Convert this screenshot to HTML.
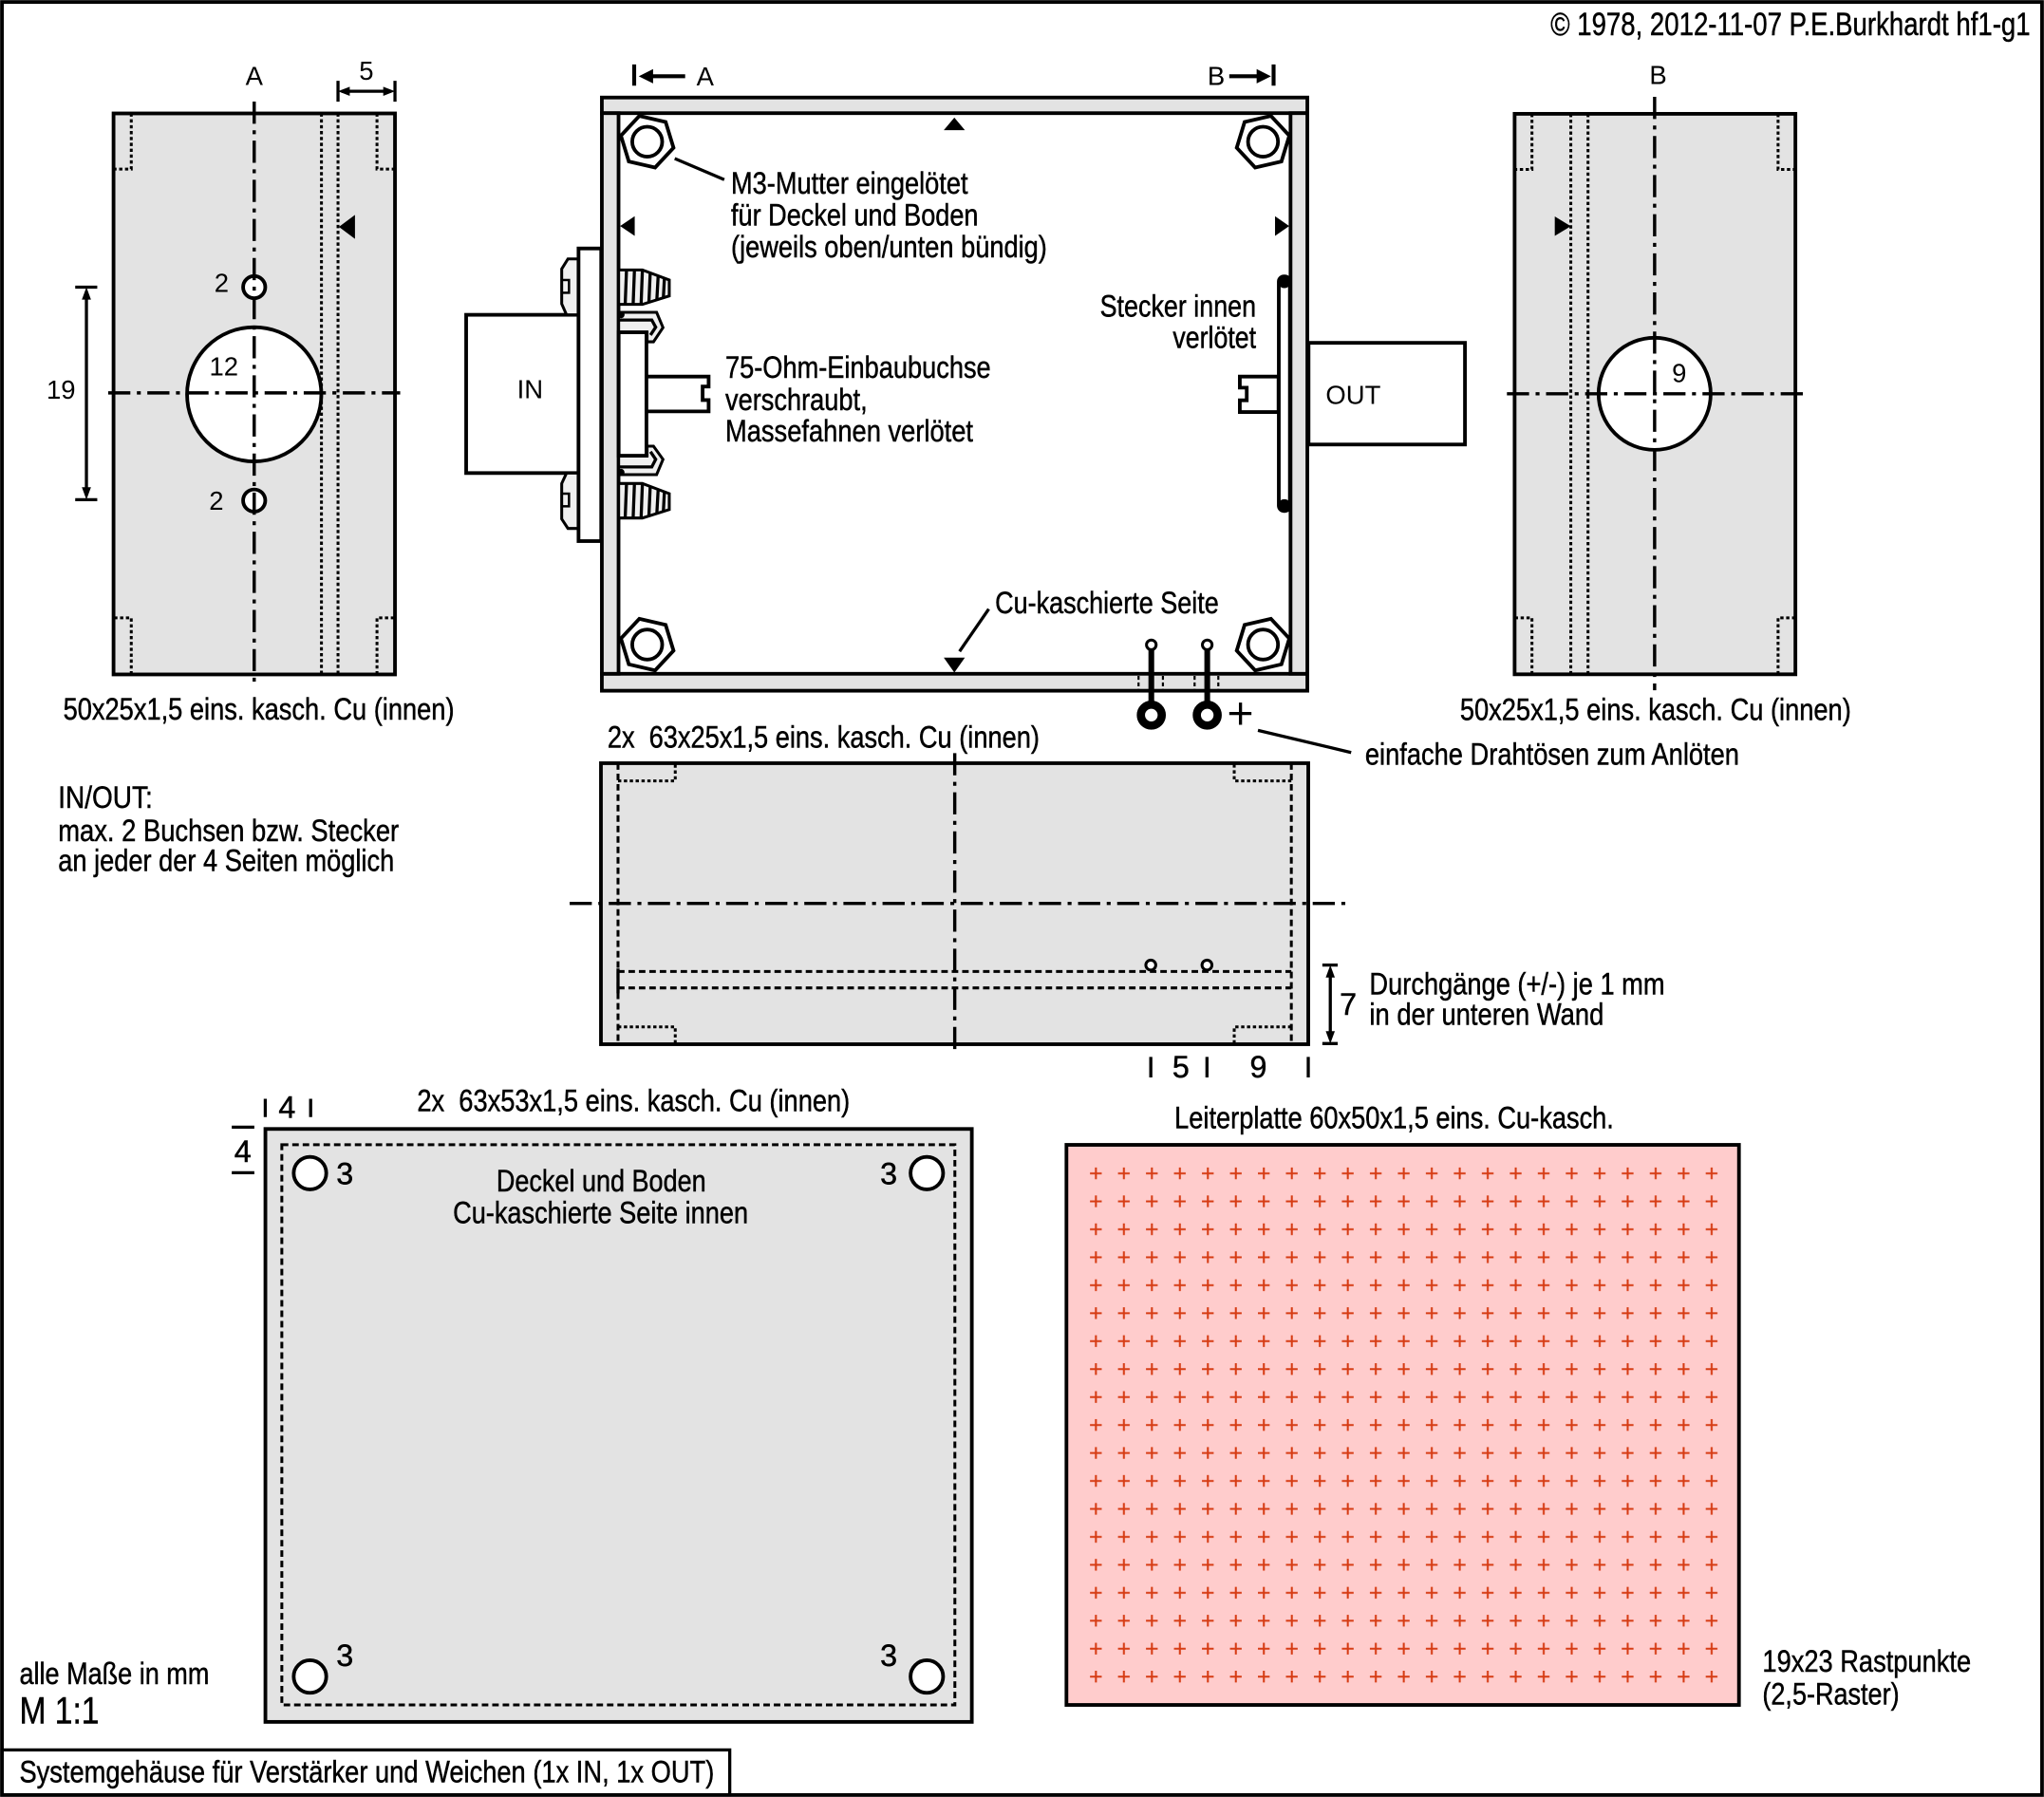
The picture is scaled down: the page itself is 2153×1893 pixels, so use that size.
<!DOCTYPE html>
<html><head><meta charset="utf-8">
<style>
html,body{margin:0;padding:0;background:#fff;overflow:hidden}
svg{display:block}
.c{font-family:"Liberation Sans Narrow","Liberation Sans",sans-serif;font-size:23.5px;fill:#000;stroke:#000;stroke-width:0.35;white-space:pre}
.n{font-family:"Liberation Sans",sans-serif;font-size:20px;fill:#000}
.g{fill:#e3e3e3;stroke:#000;stroke-width:2.8}
.w{fill:#fff;stroke:#000;stroke-width:2.8}
.lg{fill:#f0f0f0;stroke:#000;stroke-width:2.2}
.ln{fill:none;stroke:#000;stroke-width:2.4}
.ln3{fill:none;stroke:#000;stroke-width:3}
.dt{fill:none;stroke:#000;stroke-width:2.2;stroke-dasharray:2.5 2}
.ds{fill:none;stroke:#000;stroke-width:2.2;stroke-dasharray:5 3}
.cl{fill:none;stroke:#000;stroke-width:2.5;stroke-dasharray:17 5 3 5}
</style></head>
<body>
<svg xmlns="http://www.w3.org/2000/svg" width="2153" height="1893" viewBox="0 0 1568 1378.6">
<defs>
<pattern id="px" patternUnits="userSpaceOnUse" x="829.97" y="889.48" width="21.47" height="21.45">
<path d="M6.2,10.725H15.2M10.735,6.2V15.2" stroke="#d63c14" stroke-width="1.5"/>
</pattern>
</defs>
<rect x="0" y="0" width="1568" height="1378.6" fill="#fff"/>
<rect x="1.5" y="1.5" width="1565" height="1375.6" fill="none" stroke="#000" stroke-width="2.8"/>

<text class="c" x="1557.5" y="27" text-anchor="end" style="font-size:25px" textLength="368" lengthAdjust="spacingAndGlyphs">© 1978, 2012-11-07 P.E.Burkhardt hf1-g1</text>

<!-- LEFT PANEL (A) -->
<rect x="87.1" y="87" width="215.9" height="430.4" class="g"/>
<path class="dt" d="M100.7,87V129.7H87.1 M289.2,87V129.7H303 M100.7,517.4V474H87.1 M289.2,517.4V474H303"/>
<path class="dt" d="M246.6,87V517.4 M259.3,87V517.4"/>
<circle cx="195" cy="302.5" r="51.5" class="w"/>
<circle cx="195" cy="220.3" r="8.5" class="w" stroke-width="2.4"/>
<circle cx="195" cy="384" r="8.5" class="w" stroke-width="2.4"/>
<polygon points="260,174 272.3,164.8 272.3,183.2"/>
<path class="cl" d="M195,77.9V524.2 M83,301.4H307"/>
<path class="ln" d="M259.3,62V78 M303,62V78 M262,70H300"/>
<polygon points="259.3,70 268.3,66.5 268.3,73.5"/>
<polygon points="303,70 294,66.5 294,73.5"/>
<path class="ln" d="M57.7,220.3H74.6 M57.7,383.3H74.6 M66.3,224V380"/>
<polygon points="66.3,220.3 62.8,229.8 69.8,229.8"/>
<polygon points="66.3,383.3 62.8,373.8 69.8,373.8"/>
<text class="n" x="195" y="65" text-anchor="middle">A</text>
<text class="n" x="281" y="61" text-anchor="middle">5</text>
<text class="n" x="170" y="224" text-anchor="middle">2</text>
<text class="n" x="171.7" y="288" text-anchor="middle">12</text>
<text class="n" x="166" y="391" text-anchor="middle">2</text>
<text class="n" x="46.8" y="306" text-anchor="middle">19</text>
<text class="c" x="48.5" y="552" textLength="300" lengthAdjust="spacingAndGlyphs">50x25x1,5 eins. kasch. Cu (innen)</text>

<!-- RIGHT PANEL (B) -->
<rect x="1161.9" y="87.3" width="215.4" height="430" class="g"/>
<path class="dt" d="M1175.2,87.3V130H1161.9 M1364,87.3V130H1377.3 M1175.2,517.3V474H1161.9 M1364,517.3V474H1377.3"/>
<path class="dt" d="M1205,87.3V517.3 M1218.2,87.3V517.3"/>
<polygon points="1205,173.5 1192.7,166 1192.7,181"/>
<circle cx="1269.3" cy="302.1" r="43" class="w"/>
<path class="cl" d="M1269.3,74.3V529.5 M1156,302.1H1385.8"/>
<text class="n" x="1272" y="64.6" text-anchor="middle">B</text>
<text class="n" x="1288.2" y="293" text-anchor="middle">9</text>
<text class="c" x="1120" y="552.5" textLength="300" lengthAdjust="spacingAndGlyphs">50x25x1,5 eins. kasch. Cu (innen)</text>

<!-- TOP VIEW BOX -->
<path class="ln3" d="M486.5,49.4V65.7 M977,49.4V65.7 M500,58.5H525.6 M943,58.5H968"/>
<polygon points="490,58.5 501,53 501,64"/>
<polygon points="975,58.5 964,53 964,64"/>
<text class="n" x="541" y="65.5" text-anchor="middle">A</text>
<text class="n" x="933" y="65" text-anchor="middle">B</text>

<!-- IN connector outside -->
<rect x="357.6" y="241.5" width="86.2" height="121.4" class="w"/>
<text class="n" x="406.6" y="305.6" text-anchor="middle">IN</text>
<path class="lg" d="M435.7,198.6H443.8V241.5H434.6L430.9,233.1V206.3Z"/>
<rect x="430.9" y="214.8" width="5.6" height="9.8" fill="none" stroke="#000" stroke-width="1.8"/>
<path class="lg" d="M434.6,362.9H443.8V405.4H435.7L430.9,398.1V370.9Z"/>
<rect x="430.9" y="378.7" width="5.6" height="9.7" fill="none" stroke="#000" stroke-width="1.8"/>
<rect x="443.8" y="190.6" width="17.4" height="224.5" class="w"/>

<!-- walls -->
<rect x="461.7" y="74.8" width="541.2" height="12" class="g"/>
<rect x="461.7" y="516.9" width="541.2" height="13" class="g"/>
<rect x="461.7" y="86.8" width="12.8" height="430.1" class="g"/>
<rect x="990" y="86.8" width="12.9" height="430.1" class="g"/>

<!-- nuts -->
<g transform="translate(496.5,108.7)"><polygon class="w" stroke-width="2.4" points="20.17,4.66 6.05,19.8 -14.12,15.14 -20.17,-4.66 -6.05,-19.8 14.12,-15.14"/><circle r="11.5" class="w" stroke-width="2.4"/></g>
<g transform="translate(968.9,108.7)"><polygon class="w" stroke-width="2.4" points="20.17,-4.66 14.12,15.14 -6.05,19.8 -20.17,4.66 -14.12,-15.14 6.05,-19.8"/><circle r="11.5" class="w" stroke-width="2.4"/></g>
<g transform="translate(496.5,494.5)"><polygon class="w" stroke-width="2.4" points="20.17,4.66 6.05,19.8 -14.12,15.14 -20.17,-4.66 -6.05,-19.8 14.12,-15.14"/><circle r="11.5" class="w" stroke-width="2.4"/></g>
<g transform="translate(968.9,494.5)"><polygon class="w" stroke-width="2.4" points="20.17,-4.66 14.12,15.14 -6.05,19.8 -20.17,4.66 -14.12,-15.14 6.05,-19.8"/><circle r="11.5" class="w" stroke-width="2.4"/></g>

<polygon points="732.1,90.2 724,99.8 740.2,99.8"/>
<polygon points="732.1,516 724,504.5 740.2,504.5"/>
<polygon points="475.7,173.4 486.9,165.8 486.9,181"/>
<polygon points="989,173.4 978.1,165.8 978.1,181"/>
<path class="ln" d="M517.6,121.6L555.6,137.8 M758.5,467.2L736.1,499.7"/>

<!-- IN connector inside -->
<path class="lg" d="M474.6,207.1H492.8L513.4,214.8V227L492.8,233.5H474.6Z"/>
<path class="ln" stroke-width="1.7" d="M480.6,207.1L479.6,233.5 M486.7,207.1L485.7,233.5 M492.8,207.1L491.8,233.5 M498.8,209L497.8,231.7 M504.9,211.4L503.9,229.6 M509.7,213.2L508.9,228.2"/>
<path class="lg" d="M474.6,370.9H492.8L513.4,378.7V390.9L492.8,397.4H474.6Z"/>
<path class="ln" stroke-width="1.7" d="M480.6,370.9L479.6,397.4 M486.7,370.9L485.7,397.4 M492.8,370.9L491.8,397.4 M498.8,372.8L497.8,395.6 M504.9,375.2L503.9,393.5 M509.7,377L508.9,392"/>
<path class="lg" d="M474.6,239.6H503.7L508.6,251.3L501.3,262.2H496.4V254.9H474.6Z"/>
<path class="ln" stroke-width="1.7" d="M474.6,245.5H500L503,251L499,257"/>
<path class="lg" d="M474.6,364.1H503.7L508.6,352.4L501.3,342.3H496.4V349.6H474.6Z"/>
<path class="ln" stroke-width="1.7" d="M474.6,358.2H500L503,352.4L499,346.5"/>
<circle cx="476.5" cy="241.5" r="2.6"/>
<circle cx="476.5" cy="362.3" r="2.6"/>
<rect x="474.6" y="254.9" width="21.3" height="94.7" class="w" stroke-width="2.4"/>
<path class="w" stroke-width="2.4" d="M495.9,288.9H543.6V296.5H539V306.9H543.6V315.6H495.9Z"/>

<!-- OUT connector -->
<rect x="1003.8" y="263" width="120" height="78" class="w"/>
<text class="n" x="1017" y="310">OUT</text>
<path class="w" stroke-width="2.4" d="M980.8,288.9H951.1V297.4H956.4V307.1H951.1V316.1H980.8Z"/>
<rect x="981" y="212" width="8.5" height="180" rx="4" class="w" stroke-width="2.4"/>
<rect x="981" y="212" width="8.5" height="9" rx="4" fill="#000"/>
<rect x="981" y="383" width="8.5" height="9" rx="4" fill="#000"/>

<!-- solder eyes -->
<path fill="none" stroke="#000" stroke-width="1.6" stroke-dasharray="3 2" d="M873.4,518.5V529 M892.1,518.5V529 M916.4,518.5V529 M934.6,518.5V529"/>
<path fill="none" stroke="#000" stroke-width="4.4" d="M883.2,498.5V541 M926.1,498.5V541"/>
<circle cx="883.2" cy="494.7" r="3.7" fill="#fff" stroke="#000" stroke-width="2.2"/>
<circle cx="926.1" cy="494.7" r="3.7" fill="#fff" stroke="#000" stroke-width="2.2"/>
<circle cx="883.2" cy="548.6" r="8" fill="#fff" stroke="#000" stroke-width="6.3"/>
<circle cx="926.1" cy="548.6" r="8" fill="#fff" stroke="#000" stroke-width="6.3"/>
<path class="ln" d="M943,547.4H960 M951.6,539V556"/>
<path class="ln" d="M965,560.3L1036.5,577.3"/>

<!-- top view texts -->
<text class="c" x="560.8" y="148.5" textLength="181.7" lengthAdjust="spacingAndGlyphs">M3-Mutter eingelötet</text>
<text class="c" x="560.8" y="172.8" textLength="189.7" lengthAdjust="spacingAndGlyphs">für Deckel und Boden</text>
<text class="c" x="560.8" y="197.2" textLength="242.4" lengthAdjust="spacingAndGlyphs">(jeweils oben/unten bündig)</text>
<text class="c" x="556.4" y="290" textLength="203.7" lengthAdjust="spacingAndGlyphs">75-Ohm-Einbaubuchse</text>
<text class="c" x="556.4" y="314.5" textLength="109" lengthAdjust="spacingAndGlyphs">verschraubt,</text>
<text class="c" x="556.4" y="338.5" textLength="190.1" lengthAdjust="spacingAndGlyphs">Massefahnen verlötet</text>
<text class="c" x="963.6" y="242.7" text-anchor="end" textLength="119.8" lengthAdjust="spacingAndGlyphs">Stecker innen</text>
<text class="c" x="963.6" y="267" text-anchor="end" textLength="63.9" lengthAdjust="spacingAndGlyphs">verlötet</text>
<text class="c" x="763.3" y="470.3" textLength="171.7" lengthAdjust="spacingAndGlyphs">Cu-kaschierte Seite</text>
<text class="c" x="1047.2" y="586.5" textLength="287" lengthAdjust="spacingAndGlyphs">einfache Drahtösen zum Anlöten</text>

<!-- MIDDLE VIEW -->
<text class="c" x="466" y="573.5" textLength="331.4" lengthAdjust="spacingAndGlyphs">2x  63x25x1,5 eins. kasch. Cu (innen)</text>
<rect x="461" y="585.5" width="542.6" height="215.6" class="g"/>
<path class="ds" stroke-dasharray="6 3" d="M474.1,585.5V801.1 M990.6,585.5V801.1"/>
<path class="dt" d="M474.1,599.1H518V585.5 M990.6,599.1H946.8V585.5 M474.1,787.8H518V801.1 M990.6,787.8H946.8V801.1"/>
<path class="ds" d="M474.1,745.3H990.6 M474.1,757.9H990.6"/>
<path class="ln" d="M474.1,743V762"/>
<circle cx="882.8" cy="740.4" r="3.8" fill="#fff" stroke="#000" stroke-width="2.2"/>
<circle cx="925.9" cy="740.4" r="3.8" fill="#fff" stroke="#000" stroke-width="2.2"/>
<path class="cl" d="M732.4,577.8V807.2 M437,693.1H1032.6"/>
<path class="ln" d="M1014.4,740.4H1026.2 M1014.4,800.6H1026.2 M1020.5,744V797"/>
<polygon points="1020.5,740.4 1017,749.9 1024,749.9"/>
<polygon points="1020.5,800.6 1017,791.1 1024,791.1"/>
<text class="c" x="1034.2" y="778.5" text-anchor="middle">7</text>
<text class="c" x="1050.5" y="763" textLength="226.6" lengthAdjust="spacingAndGlyphs">Durchgänge (+/-) je 1 mm</text>
<text class="c" x="1050.5" y="786" textLength="179.8" lengthAdjust="spacingAndGlyphs">in der unteren Wand</text>
<path class="ln" stroke-width="2.6" d="M882.8,810.8V826.6 M925.9,810.8V826.6 M1003.6,810.8V826.6"/>
<text class="c" x="905.9" y="826.5" text-anchor="middle">5</text>
<text class="c" x="965.3" y="826.5" text-anchor="middle">9</text>

<!-- LEFT TEXT -->
<text class="c" x="44.6" y="619.8" textLength="72.5" lengthAdjust="spacingAndGlyphs">IN/OUT:</text>
<text class="c" x="44.6" y="645.2" textLength="261.4" lengthAdjust="spacingAndGlyphs">max. 2 Buchsen bzw. Stecker</text>
<text class="c" x="44.6" y="668.3" textLength="257.8" lengthAdjust="spacingAndGlyphs">an jeder der 4 Seiten möglich</text>

<!-- BOTTOM PLATE -->
<path class="ln" stroke-width="2.6" d="M203.5,843V857 M238.3,843V857 M177.8,864.7H195.1 M177.8,899.7H195.1"/>
<text class="c" x="220.2" y="857.5" text-anchor="middle">4</text>
<text class="c" x="186.2" y="891.5" text-anchor="middle">4</text>
<text class="c" x="320" y="852.5" textLength="332" lengthAdjust="spacingAndGlyphs">2x  63x53x1,5 eins. kasch. Cu (innen)</text>
<rect x="203.6" y="866.1" width="541.9" height="454.9" class="g"/>
<rect x="216.2" y="878.2" width="516.3" height="429.8" class="ds"/>
<circle cx="237.8" cy="900" r="12.5" class="w" stroke-width="2.4"/>
<circle cx="711" cy="900" r="12.5" class="w" stroke-width="2.4"/>
<circle cx="237.8" cy="1286.2" r="12.5" class="w" stroke-width="2.4"/>
<circle cx="711" cy="1286.2" r="12.5" class="w" stroke-width="2.4"/>
<text class="c" x="264.5" y="908.5" text-anchor="middle">3</text>
<text class="c" x="681.7" y="908.5" text-anchor="middle">3</text>
<text class="c" x="264.5" y="1278" text-anchor="middle">3</text>
<text class="c" x="681.7" y="1278" text-anchor="middle">3</text>
<text class="c" x="461.2" y="913.8" text-anchor="middle" textLength="160.8" lengthAdjust="spacingAndGlyphs">Deckel und Boden</text>
<text class="c" x="460.7" y="938.2" text-anchor="middle" textLength="226.5" lengthAdjust="spacingAndGlyphs">Cu-kaschierte Seite innen</text>

<!-- PCB -->
<text class="c" x="901" y="865.5" textLength="337" lengthAdjust="spacingAndGlyphs">Leiterplatte 60x50x1,5 eins. Cu-kasch.</text>
<rect x="818.1" y="878.3" width="515.9" height="429.7" fill="#ffcccc" stroke="#000" stroke-width="2.8"/>
<rect x="829.97" y="889.48" width="493.81" height="407.55" fill="url(#px)"/>
<text class="c" x="1352" y="1282.5" textLength="160" lengthAdjust="spacingAndGlyphs">19x23 Rastpunkte</text>
<text class="c" x="1352" y="1307.5" textLength="105" lengthAdjust="spacingAndGlyphs">(2,5-Raster)</text>

<!-- BOTTOM LEFT -->
<text class="c" x="14.9" y="1292" textLength="145.6" lengthAdjust="spacingAndGlyphs">alle Maße in mm</text>
<text class="c" x="14.9" y="1322" style="font-size:29px" textLength="61.2" lengthAdjust="spacingAndGlyphs">M 1:1</text>
<rect x="1.5" y="1342.5" width="558.3" height="34.6" fill="none" stroke="#000" stroke-width="2.4"/>
<text class="c" x="14.9" y="1367.5" textLength="533" lengthAdjust="spacingAndGlyphs">Systemgehäuse für Verstärker und Weichen (1x IN, 1x OUT)</text>
</svg>
</body></html>
